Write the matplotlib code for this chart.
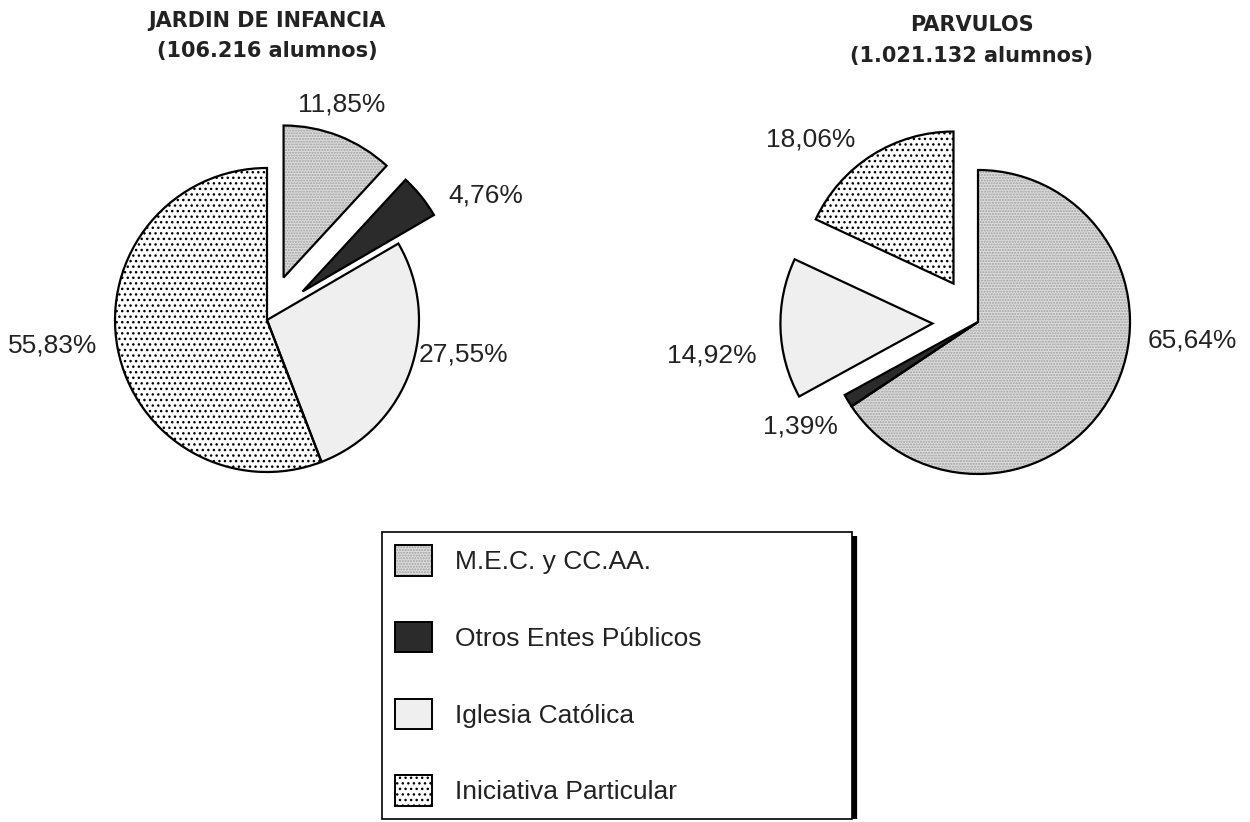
import matplotlib
matplotlib.use("Agg")
import matplotlib.pyplot as plt
from matplotlib.patches import Patch
from matplotlib.legend_handler import HandlerTuple

categorias = ["M.E.C. y CC.AA.", "Otros Entes Públicos", "Iglesia Católica", "Iniciativa Particular"]
jardin = [11.85, 4.76, 27.55, 55.83]
parvulos = [65.64, 1.39, 14.92, 18.06]

# estilo de cada categoria: relleno, color de trama, trama
rellenos = ["#dcdcdc", "#2b2b2b", "#efefef", "white"]
tramas_color = ["#a0a0a0", "#2b2b2b", "#efefef", "black"]
tramas = ["......", "", "", "..."]

W, H = 1250, 822
R = 152.0  # pixeles por radio

fig = plt.figure(figsize=(W / 100, H / 100), dpi=100)
ax = fig.add_axes([0, 0, 1, 1])

def px(x, y):
    # pixel (desde arriba) -> coordenadas de datos
    return (x / R, (H - y) / R)

def tarta(valores, centro, explode, pos_etiquetas):
    wedges, _ = ax.pie(valores, center=centro, startangle=90, counterclock=False,
                       explode=explode, colors=rellenos, radius=1,
                       wedgeprops=dict(linewidth=0), frame=True)
    for w, c, t in zip(wedges, tramas_color, tramas):
        w.set_edgecolor(c)
        w.set_linewidth(0)
        if t:
            w.set_hatch(t)
    etiquetas = [f"{v:.2f}%".replace(".", ",") for v in valores]
    ax.pie(valores, center=centro, startangle=90, counterclock=False,
           explode=explode, radius=1, labels=etiquetas, labeldistance=1.3,
           wedgeprops=dict(facecolor="none", edgecolor="black", linewidth=1.6),
           textprops=dict(fontsize=19, family="Liberation Sans", color="#222222"),
           frame=True)
    for t, (dx, dy) in zip(ax.texts[-4:], pos_etiquetas):
        t.set_position((centro[0] + dx, centro[1] + dy))
        t.set_ha("center")
        t.set_va("center")

tarta(jardin, px(267, 320), [0.3, 0.3, 0, 0],
      [(0.49, 1.42), (1.44, 0.82), (1.29, -0.23), (-1.41, -0.17)])
tarta(parvulos, px(978, 322), [0, 0, 0.3, 0.3],
      [(1.41, -0.12), (-1.17, -0.69), (-1.75, -0.22), (-1.10, 1.20)])

ax.set_xlim(0, W / R)
ax.set_ylim(0, H / R)
ax.set_aspect("equal")
ax.axis("off")

estilo_titulo = dict(ha="center", va="center", fontsize=15, fontweight="bold",
                     family="DejaVu Sans", color="#222222")
fig.text(267 / W, 1 - 21 / H, "JARDIN DE INFANCIA", **estilo_titulo)
fig.text(267 / W, 1 - 51 / H, "(106.216 alumnos)", **estilo_titulo)
fig.text(972 / W, 1 - 25 / H, "PARVULOS", **estilo_titulo)
fig.text(972 / W, 1 - 56 / H, "(1.021.132 alumnos)", **estilo_titulo)

handles = []
for f, c, t in zip(rellenos, tramas_color, tramas):
    fondo = Patch(facecolor=f, edgecolor=c, linewidth=0, hatch=t if t else None)
    borde = Patch(facecolor="none", edgecolor="black", linewidth=1.4)
    handles.append((fondo, borde))

leg = fig.legend(handles, categorias, loc="upper left",
                 bbox_to_anchor=(382 / W, 0, 470 / W, 1 - 532 / H), mode="expand",
                 handler_map={tuple: HandlerTuple(ndivide=1)},
                 prop=dict(family="Liberation Sans", size=19),
                 handlelength=1.4, handleheight=1.4, labelspacing=1.75,
                 borderpad=0.5, handletextpad=0.85, borderaxespad=0,
                 fancybox=False, framealpha=1, edgecolor="black")
leg.get_frame().set_linewidth(1.2)
for t in leg.get_texts():
    t.set_color("#222222")

fig.canvas.draw()
bb = leg.get_window_extent()
ax.plot([(bb.x1 + 2) / R, (bb.x1 + 2) / R], [bb.y0 / R, (bb.y1 - 4) / R],
        color="black", linewidth=4.5, solid_capstyle="butt")

fig.savefig("out.png", dpi=100)
